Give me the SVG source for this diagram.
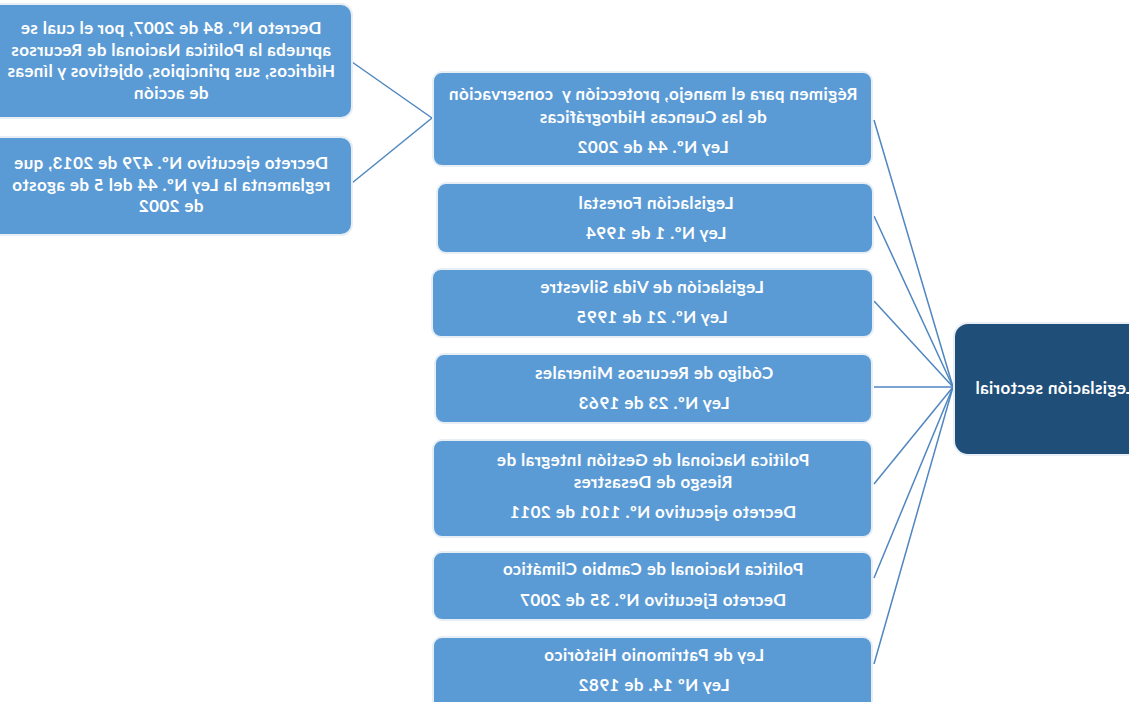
<svg xmlns="http://www.w3.org/2000/svg" width="1129" height="702" viewBox="0 0 1129 702">
<style>
.box{fill:#5B9BD5;stroke:#E8EEF5;stroke-width:2}
.dark{fill:#1F4E79;stroke:#E8EEF5;stroke-width:2}
.t{font-family:Lato,"Liberation Sans",sans-serif;font-weight:bold;font-size:17px;letter-spacing:0.4px;fill:#FFFFFF;text-anchor:middle}
.conn line{stroke:#4F86C0;stroke-width:1.5}
</style>
<rect width="1129" height="702" fill="#FFFFFF"/>
<g id="connectors" class="conn">
<line x1="352" y1="62" x2="432" y2="118"/>
<line x1="352" y1="183" x2="432" y2="118"/>
<line x1="874" y1="120" x2="953" y2="387"/>
<line x1="874" y1="216" x2="953" y2="387"/>
<line x1="874" y1="301" x2="953" y2="387"/>
<line x1="874" y1="387" x2="953" y2="387"/>
<line x1="874" y1="484" x2="953" y2="387"/>
<line x1="874" y1="578" x2="953" y2="387"/>
<line x1="874" y1="664" x2="953" y2="387"/>
</g>
<g id="decreto84">
<rect class="box" x="-20" y="4" width="372" height="114" rx="11"/>
<g transform="matrix(-1 0 0 1 1129 0)">
<text class="t" x="958" y="34">Decreto Nº. 84 de 2007, por el cual se</text>
<text class="t" x="958" y="56">aprueba la Política Nacional de Recursos</text>
<text class="t" x="958" y="77">Hídricos, sus principios, objetivos y líneas</text>
<text class="t" x="958" y="99">de acción</text>
</g>
</g>
<g id="decreto479">
<rect class="box" x="-20" y="137" width="372" height="98" rx="11"/>
<g transform="matrix(-1 0 0 1 1129 0)">
<text class="t" x="958" y="169">Decreto ejecutivo Nº. 479 de 2013, que</text>
<text class="t" x="958" y="191">reglamenta la Ley Nº. 44 del 5 de agosto</text>
<text class="t" x="958" y="212">de 2002</text>
</g>
</g>
<g id="ley44">
<rect class="box" x="433" y="72" width="439" height="94" rx="9"/>
<g transform="matrix(-1 0 0 1 1129 0)">
<text class="t" x="476" y="100" xml:space="preserve">Régimen para el manejo, protección y  conservación</text>
<text class="t" x="476" y="123">de las Cuencas Hidrográficas</text>
<text class="t" x="476" y="153">Ley Nº. 44 de 2002</text>
</g>
</g>
<g id="forestal">
<rect class="box" x="437" y="183" width="436" height="70" rx="9"/>
<g transform="matrix(-1 0 0 1 1129 0)">
<text class="t" x="473" y="209">Legislación Forestal</text>
<text class="t" x="473" y="239">Ley Nº. 1 de 1994</text>
</g>
</g>
<g id="silvestre">
<rect class="box" x="432" y="269" width="441" height="68" rx="9"/>
<g transform="matrix(-1 0 0 1 1129 0)">
<text class="t" x="477" y="293">Legislación de Vida Silvestre</text>
<text class="t" x="477" y="323">Ley Nº. 21 de 1995</text>
</g>
</g>
<g id="minerales">
<rect class="box" x="435" y="354" width="437" height="69" rx="9"/>
<g transform="matrix(-1 0 0 1 1129 0)">
<text class="t" x="475" y="379">Código de Recursos Minerales</text>
<text class="t" x="475" y="409">Ley Nº. 23 de 1963</text>
</g>
</g>
<g id="riesgo">
<rect class="box" x="433" y="440" width="439" height="97" rx="9"/>
<g transform="matrix(-1 0 0 1 1129 0)">
<text class="t" x="476" y="466">Política Nacional de Gestión Integral de</text>
<text class="t" x="476" y="488">Riesgo de Desastres</text>
<text class="t" x="476" y="518">Decreto ejecutivo Nº. 1101 de 2011</text>
</g>
</g>
<g id="climatico">
<rect class="box" x="433" y="552" width="439" height="68" rx="9"/>
<g transform="matrix(-1 0 0 1 1129 0)">
<text class="t" x="476" y="575">Política Nacional de Cambio Climático</text>
<text class="t" x="476" y="606">Decreto Ejecutivo Nº. 35 de 2007</text>
</g>
</g>
<g id="patrimonio">
<rect class="box" x="433" y="637" width="439" height="78" rx="9"/>
<g transform="matrix(-1 0 0 1 1129 0)">
<text class="t" x="475" y="661">Ley de Patrimonio Histórico</text>
<text class="t" x="475" y="691">Ley Nº 14. de 1982</text>
</g>
</g>
<g id="sectorial">
<rect class="dark" x="954" y="323" width="200" height="132" rx="14"/>
<g transform="matrix(-1 0 0 1 1129 0)">
<text class="t" x="154" y="394" style="text-anchor:end">Legislación sectorial</text>
</g>
</g>
</svg>
